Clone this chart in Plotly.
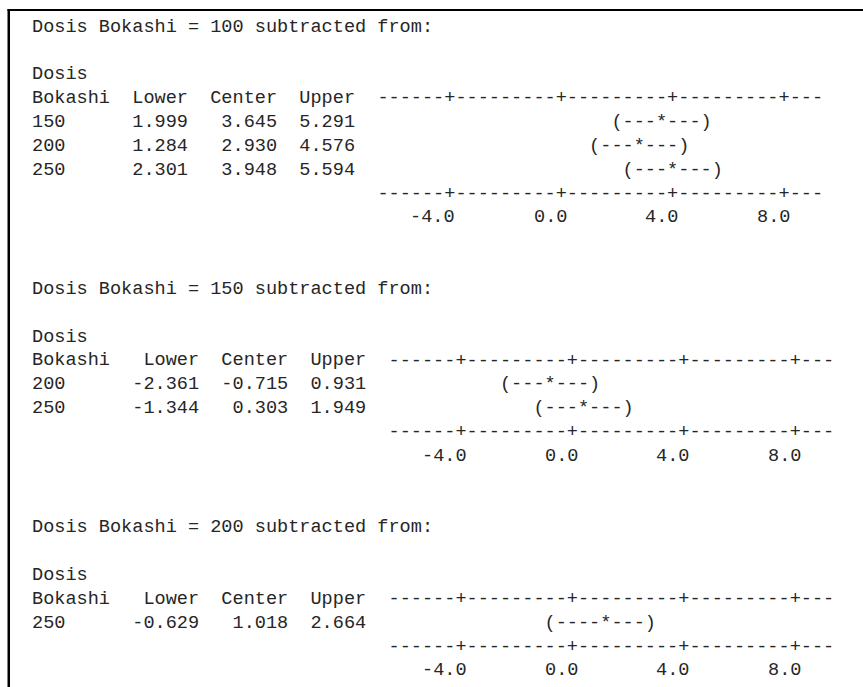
import numpy as np
import plotly.graph_objects as go

# Tukey simultaneous confidence intervals, Dosis Bokashi
base_levels = [100, 150, 200]

levels_vs_100 = ["150", "200", "250"]
lower_vs_100 = [1.999, 1.284, 2.301]
center_vs_100 = [3.645, 2.930, 3.948]
upper_vs_100 = [5.291, 4.576, 5.594]

levels_vs_150 = ["200", "250"]
lower_vs_150 = [-2.361, -1.344]
center_vs_150 = [-0.715, 0.303]
upper_vs_150 = [0.931, 1.949]

levels_vs_200 = ["250"]
lower_vs_200 = [-0.629]
center_vs_200 = [1.018]
upper_vs_200 = [2.664]

tick_values = [-4.0, 0.0, 4.0, 8.0]
tick_labels = ["-4.0", "0.0", "4.0", "8.0"]

# ---- session-window geometry (character grid) ----
W, H = 863, 687
CW = 11.142          # width of one character cell, px
LEFT = 32.0          # left edge of column 0, px
ROW0 = 27.0          # vertical centre of the first text row, px
ROW_H = 23.85        # distance between text rows, px
FS = CW / 0.6        # monospace advance is 0.6 em
FONT = "Liberation Mono, Courier New, monospace"
INK = "#262626"
NB = "\u00a0"

FIRST = tick_values[0]
CHAR_STEP = (tick_values[1] - tick_values[0]) / 10.0   # value per character


def fmt(v):
    return f"{v:.3f}"


def axis_range(ruler_col):
    # value axis whose character cells line up with the text grid
    def v_at(px):
        c = (px - LEFT) / CW - 0.5
        return FIRST + (c - ruler_col - 6) * CHAR_STEP
    return [v_at(0), v_at(W)]


def snap(v):
    return int(np.floor((v - FIRST) / CHAR_STEP + 0.5))


sections = [
    (base_levels[0], levels_vs_100, lower_vs_100, center_vs_100, upper_vs_100),
    (base_levels[1], levels_vs_150, lower_vs_150, center_vs_150, upper_vs_150),
    (base_levels[2], levels_vs_200, lower_vs_200, center_vs_200, upper_vs_200),
]

fig = go.Figure()
annotations = []
layout_axes = {}

k_start = -6
k_end = int(round((tick_values[-1] - FIRST) / CHAR_STEP)) + 3

row = 0
for si, (base, levels, lo, ce, up) in enumerate(sections):
    ax_id = "x" if si == 0 else f"x{si + 1}"
    ax_key = "xaxis" if si == 0 else f"xaxis{si + 1}"

    wl = max(5, max(len(fmt(v)) for v in lo))
    wc = max(6, max(len(fmt(v)) for v in ce))
    wu = max(5, max(len(fmt(v)) for v in up))
    ruler_col = 9 + wl + 2 + wc + 2 + wu + 2

    ax = dict(range=axis_range(ruler_col), visible=False, fixedrange=True,
              domain=[0, 1])
    if si > 0:
        ax["overlaying"] = "x"
    layout_axes[ax_key] = ax

    lines = [
        (row, f"Dosis Bokashi = {base} subtracted from:"),
        (row + 2, "Dosis"),
        (row + 3, "Bokashi".ljust(9) + "Lower".rjust(wl) + "  "
         + "Center".rjust(wc) + "  " + "Upper".rjust(wu)),
    ]
    for i, lev in enumerate(levels):
        lines.append((row + 4 + i, lev.ljust(9) + fmt(lo[i]).rjust(wl) + "  "
                      + fmt(ce[i]).rjust(wc) + "  " + fmt(up[i]).rjust(wu)))
    for r, txt in lines:
        annotations.append(dict(
            text=txt.replace(" ", NB), xref="paper", x=LEFT / W, xanchor="left",
            yref="y", y=r, yanchor="middle", showarrow=False,
            borderpad=0, borderwidth=0,
            font=dict(family=FONT, size=FS, color=INK)))

    xs, ys, ts = [], [], []
    ruler_rows = [row + 3, row + 4 + len(levels)]
    for rr in ruler_rows:
        for k in range(k_start, k_end + 1):
            v = FIRST + k * CHAR_STEP
            is_tick = any(abs(v - t) < 1e-9 for t in tick_values)
            xs.append(v)
            ys.append(rr)
            ts.append("+" if is_tick else "-")

    for i in range(len(levels)):
        kl, kc, ku = snap(lo[i]), snap(ce[i]), snap(up[i])
        for k in range(kl, ku + 1):
            ch = "(" if k == kl else ")" if k == ku else "*" if k == kc else "-"
            xs.append(FIRST + k * CHAR_STEP)
            ys.append(row + 4 + i)
            ts.append(ch)

    fig.add_trace(go.Scatter(
        x=xs, y=ys, text=ts, mode="text", textposition="middle center",
        textfont=dict(family=FONT, size=FS, color=INK),
        xaxis=ax_id, yaxis="y", hoverinfo="skip", showlegend=False))

    tick_row = row + 5 + len(levels)
    for t, lab in zip(tick_values, tick_labels):
        annotations.append(dict(
            text=lab, xref=ax_id, x=t, xanchor="right", xshift=CW / 2,
            yref="y", y=tick_row, yanchor="middle", showarrow=False,
            borderpad=0, borderwidth=0,
            font=dict(family=FONT, size=FS, color=INK)))

    row += 8 + len(levels)

# window frame: top and left edges
shapes = [
    dict(type="rect", xref="paper", yref="paper",
         x0=7.5 / W, x1=10.0 / W, y0=0, y1=1 - 9.0 / H,
         fillcolor="black", line=dict(width=0)),
    dict(type="rect", xref="paper", yref="paper",
         x0=7.5 / W, x1=1, y0=1 - 11.0 / H, y1=1 - 9.0 / H,
         fillcolor="black", line=dict(width=0)),
]

fig.update_layout(
    width=W, height=H, margin=dict(l=0, r=0, t=0, b=0, pad=0),
    paper_bgcolor="white", plot_bgcolor="white", showlegend=False,
    yaxis=dict(range=[(H - ROW0) / ROW_H, -ROW0 / ROW_H], visible=False,
               fixedrange=True, domain=[0, 1]),
    annotations=annotations, shapes=shapes,
    **layout_axes,
)

fig.write_html("out.html")
